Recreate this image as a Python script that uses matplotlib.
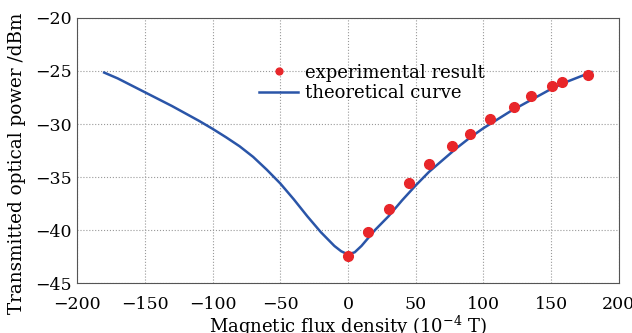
import matplotlib
matplotlib.use("Agg")
import matplotlib.pyplot as plt

# experimental points (flux density in 1e-4 T, power in dBm)
exp_b = [0, 15, 30, 45, 60, 77, 90, 105, 123, 135, 151, 158, 177]
exp_p = [-42.45, -40.2, -38.0, -35.6, -33.75, -32.1, -30.9, -29.55, -28.35,
         -27.35, -26.4, -26.0, -25.4]

# theoretical curve
theo_b = [-180, -170, -160, -150, -140, -130, -120, -110, -100, -90, -80, -70,
          -60, -50, -40, -30, -20, -10, -5, 0, 5, 10, 20, 30, 40, 50, 60, 70,
          80, 90, 100, 110, 120, 130, 140, 150, 160, 170, 180]
theo_p = [-25.15, -25.7, -26.35, -27.0, -27.65, -28.3, -29.0, -29.7, -30.45,
          -31.25, -32.1, -33.1, -34.3, -35.6, -37.1, -38.7, -40.2, -41.5, -42.0,
          -42.3, -42.1, -41.5, -40.0, -38.7, -37.2, -35.8, -34.5, -33.4, -32.3,
          -31.3, -30.4, -29.6, -28.8, -28.1, -27.4, -26.7, -26.1, -25.6, -25.1]

plt.rcParams['font.family'] = ['DejaVu Serif']
plt.rcParams['mathtext.fontset'] = 'dejavuserif'

fig = plt.figure(figsize=(6.32, 3.33), dpi=100)
ax = fig.add_axes([0.122, 0.150, 0.857, 0.796])

ax.plot(exp_b, exp_p, 'o', color='#e8262a', markersize=7, label='experimental result', zorder=3)
ax.plot(theo_b, theo_p, '-', color='#2a55a8', linewidth=1.8, label='theoretical curve', zorder=2)

ax.set_xlim(-200, 200)
ax.set_ylim(-45, -20)
ax.set_xticks(range(-200, 201, 50))
ax.set_yticks(range(-45, -19, 5))
ax.grid(True, linestyle=':', color='#999999', linewidth=0.8)
ax.tick_params(length=0, labelsize=12.5)
ax.tick_params(axis='x', pad=9)
ax.tick_params(axis='y', pad=4)
for s in ax.spines.values():
    s.set_color('#555555')
    s.set_linewidth(0.8)

ax.set_xlabel('Magnetic flux density (10$^{-4}$ T)', fontsize=13, labelpad=1)
ax.set_ylabel('Transmitted optical power /dBm', fontsize=13.2)
ax.yaxis.set_label_coords(-0.094, 0.453)

ax.legend(loc='upper left', bbox_to_anchor=(0.322, 0.855), frameon=False,
          fontsize=13, handlelength=2.2, handletextpad=0.35, labelspacing=0.15,
          markerscale=0.7, borderaxespad=0)

fig.savefig('out.png', dpi=100)
